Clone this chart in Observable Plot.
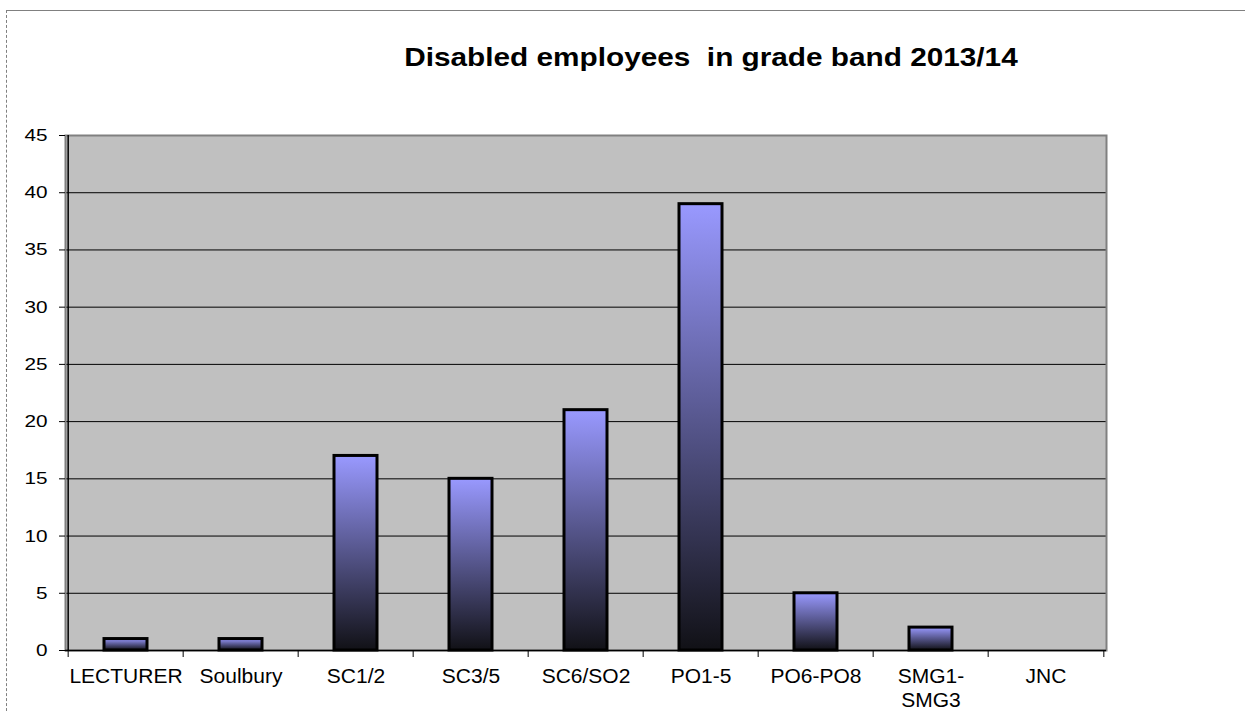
<!DOCTYPE html>
<html><head><meta charset="utf-8">
<script src="https://cdn.jsdelivr.net/npm/d3@7"></script>
<script src="https://cdn.jsdelivr.net/npm/@observablehq/plot@0.6"></script>
<style>
body{margin:0;background:#fff;font-family:"Liberation Sans",Arial,sans-serif;}
#wrap{position:relative;width:1245px;height:711px;overflow:hidden;}
#border{position:absolute;left:6px;top:10px;width:1245px;height:720px;border-top:1px solid #808080;border-left:1px dashed #808080;}
#title{position:absolute;left:211px;width:1000px;top:45px;text-align:center;font-weight:bold;font-size:25px;line-height:25px;transform:scaleX(1.19);transform-origin:center;color:#000;white-space:pre;}
#chart{position:absolute;left:0;top:100px;}
</style></head><body>
<div id="wrap">
<div id="border"></div>
<div id="title">Disabled employees  in grade band 2013/14</div>
<svg width="0" height="0" style="position:absolute"><defs><linearGradient id="barGrad" x1="0" y1="0" x2="0" y2="1"><stop offset="0" stop-color="#9999ff"/><stop offset="1" stop-color="#111116"/></linearGradient></defs></svg>
<div id="chart"></div>
</div>
<script>
const categories = ["LECTURER","Soulbury","SC1/2","SC3/5","SC6/SO2","PO1-5","PO6-PO8","SMG1-\nSMG3","JNC"];
const counts = [1, 1, 17, 15, 21, 39, 5, 2, 0];
const yTicks = [0, 5, 10, 15, 20, 25, 30, 35, 40, 45];

const data = categories.map((c, i) => ({grade: c, count: counts[i]}));
const W = 1245, H = 611, mL = 65, mR = 139;
const bw = (W - mL - mR) / categories.length;

const chart = Plot.plot({
  width: W, height: H,
  marginTop: 35, marginBottom: 61, marginLeft: mL, marginRight: mR,
  style: {fontFamily: '"Liberation Sans", Arial, sans-serif', fontSize: "20px", color: "#000", background: "transparent"},
  x: {domain: categories, padding: 0, label: null},
  y: {domain: [0, 45], label: null},
  marks: [
    Plot.frame({fill: "#c0c0c0", stroke: "none"}),
    Plot.ruleY(yTicks.slice(1, -1), {stroke: "#000", strokeWidth: 1}),
    Plot.frame({stroke: "#808080", strokeWidth: 2, fill: "none"}),
    Plot.barY(data.filter(d => d.count > 0), {x: "grade", y: "count", fill: "url(#barGrad)", stroke: "#000", strokeWidth: 3, insetLeft: 36, insetRight: 36}),
    Plot.ruleX([categories[0]], {dx: -bw / 2, stroke: "#000", strokeWidth: 1.5}),
    Plot.ruleY([0], {stroke: "#000", strokeWidth: 1.5}),
    Plot.axisY({ticks: yTicks, tickSize: 6, tickPadding: 12, fontSize: 17, label: null}),
    Plot.axisX({tickSize: 7, text: null, dx: -bw / 2, label: null}),
    Plot.axisX({ticks: [categories[categories.length - 1]], tickSize: 7, text: null, dx: bw / 2, label: null}),
    Plot.axisX({tickSize: 0, tickPadding: 15, fontSize: 20, lineHeight: 1.2, label: null})
  ]
});
document.getElementById("chart").append(chart);

function stretch(sel, k) {
  chart.querySelectorAll(sel).forEach(t => {
    const spans = t.querySelectorAll("tspan");
    const els = spans.length ? [...spans] : [t];
    els.forEach(e => {
      const L = e.getComputedTextLength();
      e.setAttribute("textLength", L * k);
      e.setAttribute("lengthAdjust", "spacingAndGlyphs");
    });
  });
}
stretch('g[aria-label="y-axis tick label"] text', 1.22);
stretch('g[aria-label="x-axis tick label"] text', 1.05);
</script>
</body></html>
